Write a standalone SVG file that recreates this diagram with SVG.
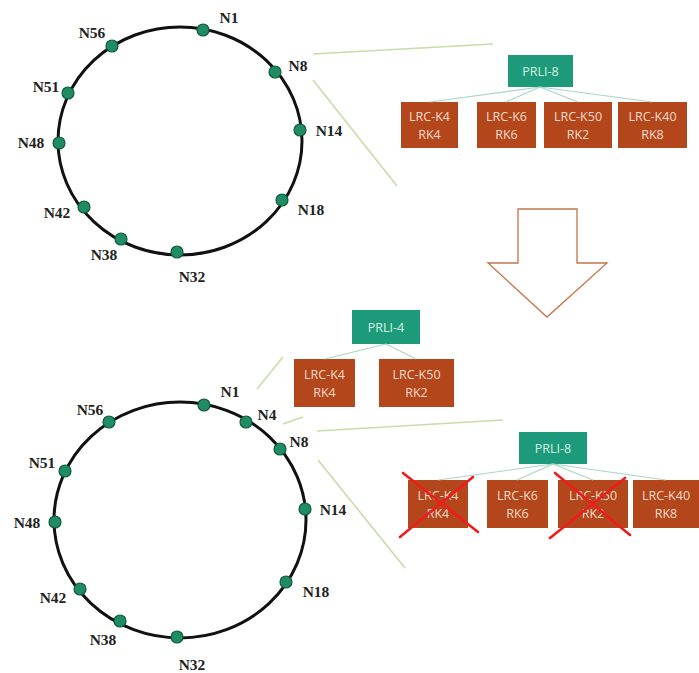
<svg xmlns="http://www.w3.org/2000/svg" width="699" height="673" viewBox="0 0 699 673">
  <defs>
    <style>
      .ring { fill: none; stroke: #111; stroke-width: 3; }
      .pt { fill: #1f8c64; stroke: #0f5a3c; stroke-width: 1.2; }
      .lbl { font-family: "Liberation Serif", serif; font-weight: bold; font-size: 15.5px; fill: #222; text-anchor: middle; }
      .zoom { stroke: #c8dca8; stroke-width: 1.6; fill: none; }
      .tree { stroke: #a8d6c6; stroke-width: 1.2; fill: none; }
      .prli { fill: #1c9a7a; }
      .lrc { fill: #b4461b; }
      .bt { font-family: "Open Sans", "Liberation Sans", sans-serif; font-size: 12.5px; text-anchor: middle; }
      .bt-g { fill: #d6f2e6; }
      .bt-o { fill: #f6dccb; }
      .cross { stroke: #ee1c1c; stroke-width: 2.6; stroke-linecap: round; }
      .big-arrow { fill: #fff; stroke: #c2754a; stroke-width: 1.3; }
    </style>
  </defs>

  <rect width="699" height="673" fill="#fff"/>

  <!-- top ring -->
  <g id="ring-top">
    <ellipse class="ring" cx="180" cy="141" rx="122" ry="114"/>
  </g>
  <g id="top-N1"><circle class="pt" cx="203" cy="30" r="6"/><text class="lbl" x="229" y="23">N1</text></g>
  <g id="top-N8"><circle class="pt" cx="275" cy="72" r="6"/><text class="lbl" x="298" y="71">N8</text></g>
  <g id="top-N14"><circle class="pt" cx="300" cy="130" r="6"/><text class="lbl" x="329" y="136">N14</text></g>
  <g id="top-N18"><circle class="pt" cx="282" cy="200" r="6"/><text class="lbl" x="311" y="215">N18</text></g>
  <g id="top-N32"><circle class="pt" cx="177" cy="252" r="6"/><text class="lbl" x="192" y="282">N32</text></g>
  <g id="top-N38"><circle class="pt" cx="121" cy="239" r="6"/><text class="lbl" x="104" y="260">N38</text></g>
  <g id="top-N42"><circle class="pt" cx="84" cy="207" r="6"/><text class="lbl" x="57" y="218">N42</text></g>
  <g id="top-N48"><circle class="pt" cx="59" cy="143" r="6"/><text class="lbl" x="31" y="148">N48</text></g>
  <g id="top-N51"><circle class="pt" cx="68" cy="93" r="6"/><text class="lbl" x="46" y="92">N51</text></g>
  <g id="top-N56"><circle class="pt" cx="112" cy="46" r="6"/><text class="lbl" x="92" y="38">N56</text></g>

  <!-- top tree -->
  <g id="top-PRLI-8"><rect class="prli" x="508" y="55" width="65" height="32"/><text class="bt bt-g" x="540.5" y="76">PRLI-8</text></g>
  <g id="top-LRC-K4"><rect class="lrc" x="401" y="102" width="57" height="46"/><text class="bt bt-o" x="429.5" y="121">LRC-K4</text><text class="bt bt-o" x="429.5" y="139">RK4</text></g>
  <g id="top-LRC-K6"><rect class="lrc" x="477" y="102" width="59" height="46"/><text class="bt bt-o" x="506.5" y="121">LRC-K6</text><text class="bt bt-o" x="506.5" y="139">RK6</text></g>
  <g id="top-LRC-K50"><rect class="lrc" x="544" y="102" width="68" height="46"/><text class="bt bt-o" x="578" y="121">LRC-K50</text><text class="bt bt-o" x="578" y="139">RK2</text></g>
  <g id="top-LRC-K40"><rect class="lrc" x="618" y="102" width="69" height="46"/><text class="bt bt-o" x="652.5" y="121">LRC-K40</text><text class="bt bt-o" x="652.5" y="139">RK8</text></g>

  <!-- arrow between stages -->
  <g id="down-arrow">
    <polygon class="big-arrow" points="518,209 577,209 577,263 607,263 547,317 488,263 518,263"/>
  </g>

  <!-- bottom ring -->
  <g id="ring-bottom">
    <ellipse class="ring" cx="180" cy="520" rx="126" ry="118"/>
  </g>
  <g id="bot-N1"><circle class="pt" cx="204" cy="405" r="6"/><text class="lbl" x="230" y="397">N1</text></g>
  <g id="bot-N4"><circle class="pt" cx="246" cy="422" r="6"/><text class="lbl" x="267" y="420">N4</text></g>
  <g id="bot-N8"><circle class="pt" cx="280" cy="449" r="6"/><text class="lbl" x="299" y="447">N8</text></g>
  <g id="bot-N14"><circle class="pt" cx="305" cy="509" r="6"/><text class="lbl" x="333" y="515">N14</text></g>
  <g id="bot-N18"><circle class="pt" cx="286" cy="582" r="6"/><text class="lbl" x="316" y="597">N18</text></g>
  <g id="bot-N32"><circle class="pt" cx="177" cy="637" r="6"/><text class="lbl" x="192" y="670">N32</text></g>
  <g id="bot-N38"><circle class="pt" cx="120" cy="621" r="6"/><text class="lbl" x="103" y="645">N38</text></g>
  <g id="bot-N42"><circle class="pt" cx="80" cy="589" r="6"/><text class="lbl" x="53" y="603">N42</text></g>
  <g id="bot-N48"><circle class="pt" cx="55" cy="522" r="6"/><text class="lbl" x="27" y="528">N48</text></g>
  <g id="bot-N51"><circle class="pt" cx="65" cy="471" r="6"/><text class="lbl" x="42" y="468">N51</text></g>
  <g id="bot-N56"><circle class="pt" cx="109" cy="422" r="6"/><text class="lbl" x="90" y="415">N56</text></g>

  <!-- bottom trees -->
  <g id="bot-PRLI-4"><rect class="prli" x="352" y="310" width="68" height="34"/><text class="bt bt-g" x="386" y="332">PRLI-4</text></g>
  <g id="bot4-LRC-K4"><rect class="lrc" x="294" y="359" width="61" height="48"/><text class="bt bt-o" x="324.5" y="379">LRC-K4</text><text class="bt bt-o" x="324.5" y="397">RK4</text></g>
  <g id="bot4-LRC-K50"><rect class="lrc" x="379" y="359" width="75" height="48"/><text class="bt bt-o" x="416.5" y="379">LRC-K50</text><text class="bt bt-o" x="416.5" y="397">RK2</text></g>

  <g id="bot-PRLI-8"><rect class="prli" x="519" y="432" width="68" height="32"/><text class="bt bt-g" x="553" y="453">PRLI-8</text></g>
  <g id="bot8-LRC-K4"><rect class="lrc" x="408" y="480" width="60" height="48"/><text class="bt bt-o" x="438" y="500">LRC-K4</text><text class="bt bt-o" x="438" y="518">RK4</text></g>
  <g id="bot8-LRC-K6"><rect class="lrc" x="487" y="480" width="61" height="48"/><text class="bt bt-o" x="517.5" y="500">LRC-K6</text><text class="bt bt-o" x="517.5" y="518">RK6</text></g>
  <g id="bot8-LRC-K50"><rect class="lrc" x="558" y="480" width="70" height="48"/><text class="bt bt-o" x="593" y="500">LRC-K50</text><text class="bt bt-o" x="593" y="518">RK2</text></g>
  <g id="bot8-LRC-K40"><rect class="lrc" x="633" y="480" width="66" height="48"/><text class="bt bt-o" x="666" y="500">LRC-K40</text><text class="bt bt-o" x="666" y="518">RK8</text></g>

  <!-- removed entries -->
  <g id="strike-K4">
    <line class="cross" x1="400" y1="537" x2="473" y2="477"/>
    <line class="cross" x1="403" y1="473" x2="478" y2="532"/>
  </g>
  <g id="strike-K50">
    <line class="cross" x1="550" y1="538" x2="625" y2="478"/>
    <line class="cross" x1="555" y1="473" x2="630" y2="535"/>
  </g>

  <!-- connectors -->
  <g id="connectors">
    <line class="zoom" x1="313" y1="54" x2="493" y2="44"/>
    <line class="zoom" x1="313" y1="80" x2="397" y2="186"/>
    <line class="tree" x1="540" y1="87" x2="430" y2="102"/>
    <line class="tree" x1="540" y1="87" x2="506" y2="102"/>
    <line class="tree" x1="540" y1="87" x2="578" y2="102"/>
    <line class="tree" x1="540" y1="87" x2="652" y2="102"/>

    <line class="zoom" x1="257" y1="389" x2="283" y2="357"/>
    <line class="zoom" x1="283" y1="424" x2="303" y2="417"/>
    <line class="tree" x1="386" y1="344" x2="325" y2="359"/>
    <line class="tree" x1="386" y1="344" x2="416" y2="359"/>

    <line class="zoom" x1="317" y1="431" x2="503" y2="420"/>
    <line class="zoom" x1="318" y1="460" x2="405" y2="568"/>
    <line class="tree" x1="553" y1="464" x2="438" y2="480"/>
    <line class="tree" x1="553" y1="464" x2="517" y2="480"/>
    <line class="tree" x1="553" y1="464" x2="593" y2="480"/>
    <line class="tree" x1="553" y1="464" x2="666" y2="480"/>
  </g>
</svg>
